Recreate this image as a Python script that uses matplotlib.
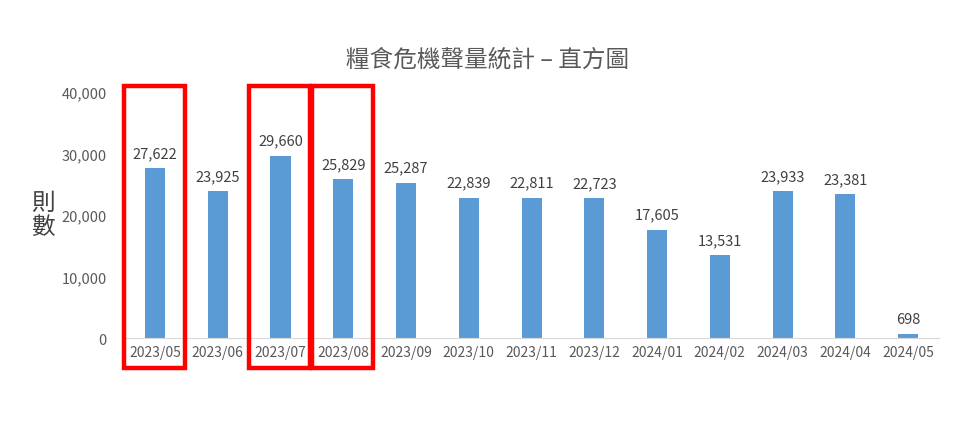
import matplotlib.pyplot as plt
from matplotlib.patches import Rectangle
import matplotlib.transforms as mtransforms

plt.rcParams['font.family'] = ['Noto Sans CJK TC', 'DejaVu Sans']

months = ['2023/05', '2023/06', '2023/07', '2023/08', '2023/09', '2023/10', '2023/11',
          '2023/12', '2024/01', '2024/02', '2024/03', '2024/04', '2024/05']
counts = [27622, 23925, 29660, 25829, 25287, 22839, 22811, 22723, 17605, 13531, 23933, 23381, 698]
highlighted = ['2023/05', '2023/07', '2023/08']
yticks = [0, 10000, 20000, 30000, 40000]

fig = plt.figure(figsize=(9.79, 4.27), dpi=100)
ax = fig.add_axes([0.1263, 0.206, 0.8333, 0.576])

x = list(range(len(months)))
ax.bar(x, counts, width=0.32, color='#5B9BD5', zorder=2)
for i, v in zip(x, counts):
    ax.text(i, v + 1300, f'{v:,}', ha='center', va='bottom', fontsize=10.5, color='#404040')

ax.set_xlim(-0.5, len(months) - 0.5)
ax.set_ylim(0, 40000)
ax.set_yticks(yticks)
ax.set_yticklabels([f'{t:,}' for t in yticks])
ax.set_xticks(x)
ax.set_xticklabels(months)
ax.tick_params(axis='both', length=0, labelsize=10.5, colors='#595959')
ax.tick_params(axis='x', labelsize=10, pad=5)
ax.tick_params(axis='y', pad=12)
for s in ['top', 'right', 'left']:
    ax.spines[s].set_visible(False)
ax.spines['bottom'].set_color('#D9D9D9')

fig.text(0.498, 0.86, '糧食危機聲量統計 – 直方圖', ha='center', va='center',
         fontsize=17, color='#595959')
fig.text(0.044, 0.495, '則\n數', ha='center', va='center', fontsize=17,
         color='#404040', linespacing=1.05)

# red highlight boxes
trans = mtransforms.blended_transform_factory(ax.transData, ax.transAxes)
for m in highlighted:
    i = months.index(m)
    ax.add_patch(Rectangle((i - 0.5, -0.12), 0.97, 1.145, transform=trans,
                           fill=False, edgecolor='#FF0000', linewidth=3.2,
                           clip_on=False, zorder=5))

fig.savefig('out.png', dpi=100)
